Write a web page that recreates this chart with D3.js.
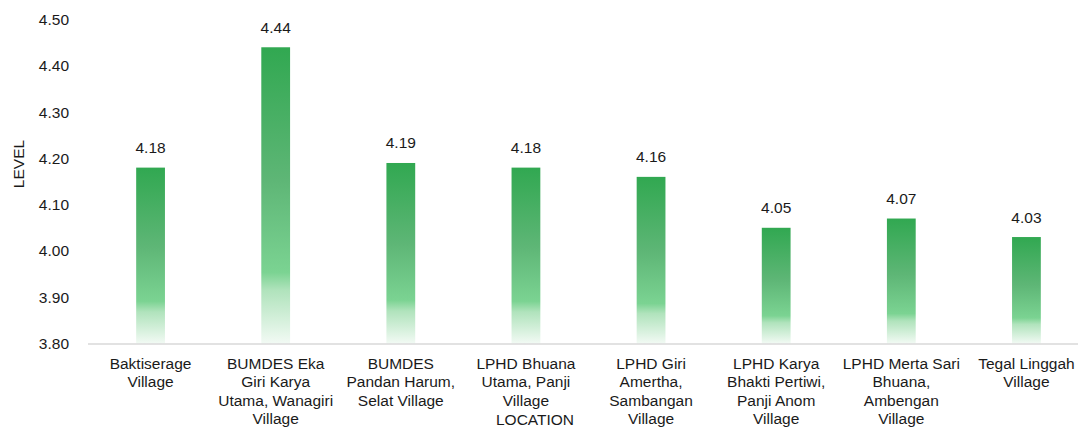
<!DOCTYPE html>
<html><head><meta charset="utf-8">
<script src="https://cdn.jsdelivr.net/npm/d3@7"></script>
<style>body{margin:0;background:#fff}svg{display:block;font-family:"Liberation Sans",Arial,sans-serif}</style>
</head><body><svg id="c" width="1078" height="428"></svg>
<script>
const categories = [
  "Baktiserage\nVillage",
  "BUMDES Eka\nGiri Karya\nUtama, Wanagiri\nVillage",
  "BUMDES\nPandan Harum,\nSelat Village",
  "LPHD Bhuana\nUtama, Panji\nVillage",
  "LPHD Giri\nAmertha,\nSambangan\nVillage",
  "LPHD Karya\nBhakti Pertiwi,\nPanji Anom\nVillage",
  "LPHD Merta Sari\nBhuana,\nAmbengan\nVillage",
  "Tegal Linggah\nVillage"
];
const values = [4.18, 4.44, 4.19, 4.18, 4.16, 4.05, 4.07, 4.03];
const yTicks = [3.80, 3.90, 4.00, 4.10, 4.20, 4.30, 4.40, 4.50];
const yTitle = "LEVEL";
const xTitle = "LOCATION";

const FS = 15.5;
const svg = d3.select("#c");
const x = d3.scaleBand().domain(categories).range([88, 1089]).paddingInner(0.77).paddingOuter(0.385);
const y = d3.scaleLinear().domain([3.8, 4.5]).range([343.5, 19.5]);

const defs = svg.append("defs");
const g = defs.append("linearGradient").attr("id","gr").attr("x1",0).attr("y1",0).attr("x2",0).attr("y2",1);
[[0,"#31a851"],[0.45,"#5eb676"],[0.76,"#7bd392"],[0.82,"#b0e3bc"],[1,"#f2faf4"]].forEach(s=>
  g.append("stop").attr("offset",s[0]).attr("stop-color",s[1]));

// y axis labels
svg.append("g").selectAll("text").data(yTicks).join("text")
  .attr("x",69).attr("y",d=>y(d)+5.5).attr("text-anchor","end")
  .attr("font-size",FS).attr("fill","#1a1a1a").text(d=>d.toFixed(2));

// bars
svg.append("g").selectAll("rect").data(values).join("rect")
  .attr("x",(d,i)=>x(categories[i])).attr("width",x.bandwidth())
  .attr("y",d=>y(d)).attr("height",d=>y(3.8)-y(d)).attr("fill","url(#gr)");

// axis line
svg.append("line").attr("x1",88).attr("x2",1089).attr("y1",y(3.8)+0.5).attr("y2",y(3.8)+0.5)
  .attr("stroke","#d9d9d9").attr("stroke-width",1.5);

// value labels
svg.append("g").selectAll("text").data(values).join("text")
  .attr("x",(d,i)=>x(categories[i])+x.bandwidth()/2).attr("y",d=>y(d)-14.5)
  .attr("text-anchor","middle").attr("font-size",FS).attr("fill","#1a1a1a").text(d=>d.toFixed(2));

// category labels
const cl = svg.append("g").selectAll("text").data(categories).join("text")
  .attr("text-anchor","middle").attr("font-size",FS).attr("fill","#1a1a1a");
cl.each(function(d){
  const t = d3.select(this), cx = x(d)+x.bandwidth()/2;
  d.split("\n").forEach((line,k)=>t.append("tspan").attr("x",cx).attr("y",369+k*18.4).text(line));
});

// titles
svg.append("text").attr("transform","translate(23.5,164) rotate(-90)").attr("text-anchor","middle")
  .attr("font-size",FS).attr("fill","#1a1a1a").text(yTitle);
svg.append("text").attr("x",535).attr("y",424.5).attr("text-anchor","middle")
  .attr("font-size",FS).attr("fill","#1a1a1a").text(xTitle);
</script></body></html>
